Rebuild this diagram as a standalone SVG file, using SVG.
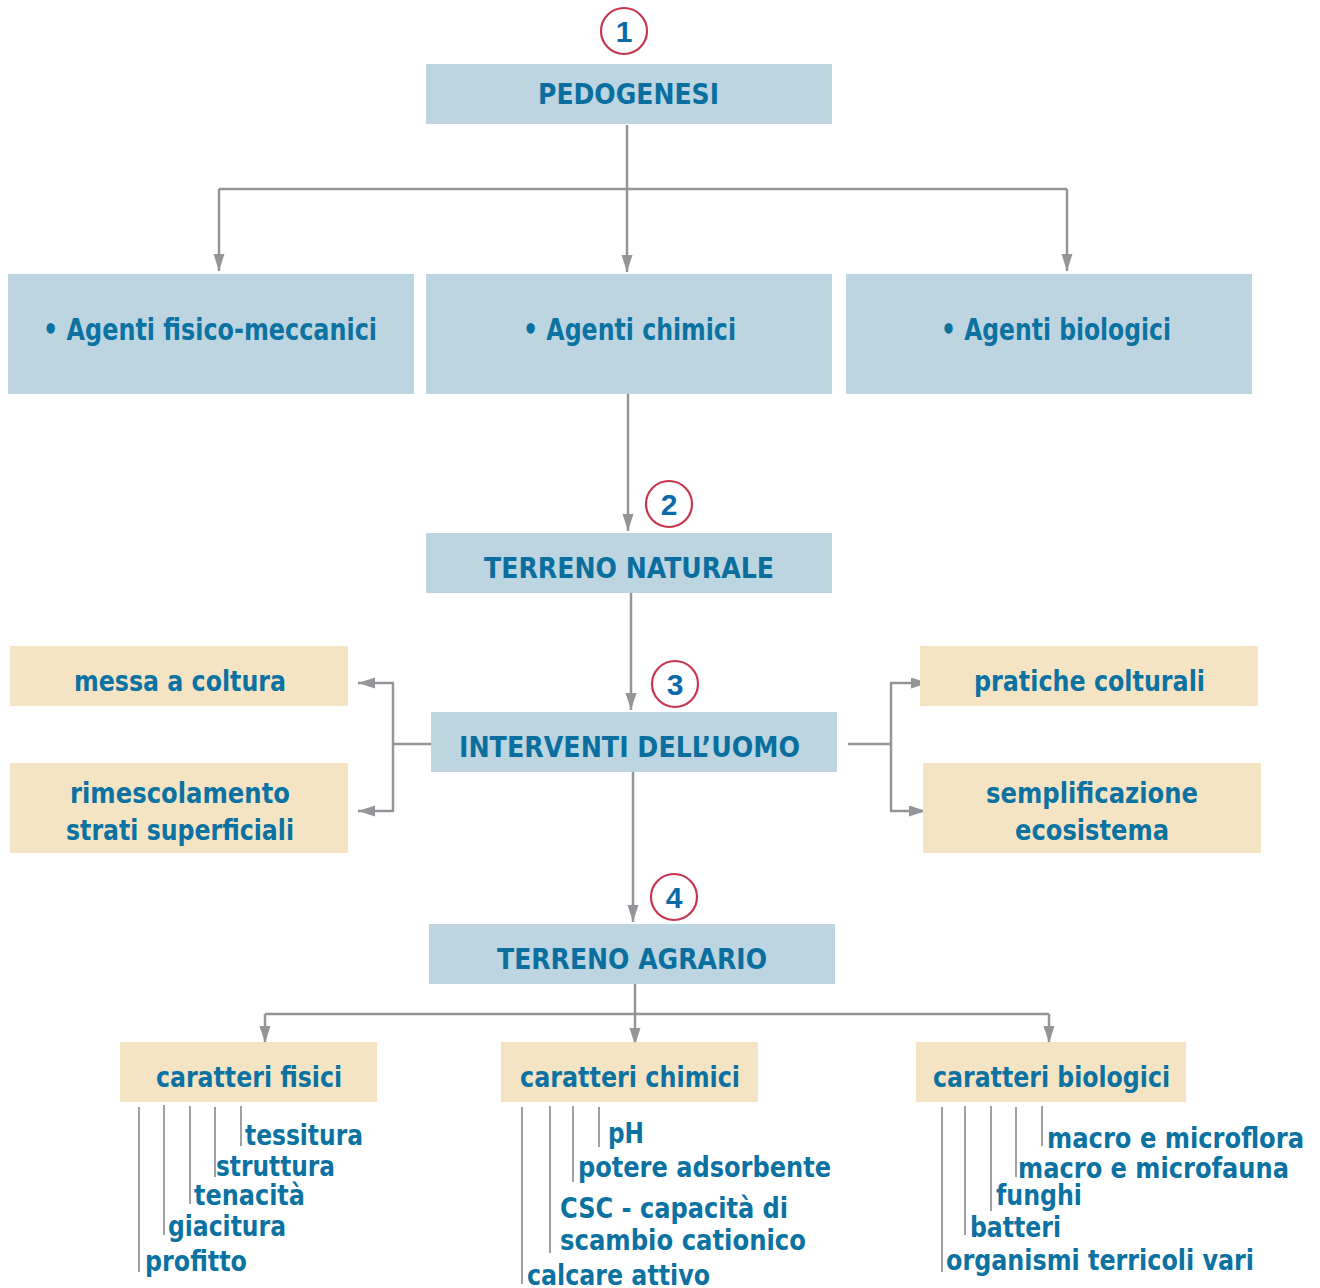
<svg xmlns="http://www.w3.org/2000/svg" width="1320" height="1288" viewBox="0 0 1320 1288">
<style>
.bb{fill:#bcd5e0}
.be{fill:#f4e4c4}
.t{font-family:"Liberation Sans Narrow","DejaVu Sans Condensed","Liberation Sans",sans-serif;font-weight:bold;fill:#0b72a2;font-size:29px}
.h{font-size:29px;fill:#0a6f9f}
.ag{font-size:30px}
.c{fill:none;stroke:#c8354f;stroke-width:2.2}
.n{font-family:"Liberation Sans",sans-serif;font-weight:bold;fill:#0b6aa8;font-size:30px;text-anchor:middle}
.ln{fill:none;stroke:#939598;stroke-width:2.5}
.li{fill:none;stroke:#a0a1a4;stroke-width:2}
</style>
<defs>
<marker id="ar" markerUnits="userSpaceOnUse" markerWidth="18" markerHeight="12" refX="17" refY="5.5" orient="auto">
<path d="M0,0 L17,5.5 L0,11 z" fill="#939598"/>
</marker>
</defs>

<g id="connectors">
<path class="ln" d="M627,125 V272" marker-end="url(#ar)"/>
<path class="ln" d="M219,189 H1067"/>
<path class="ln" d="M219,189 V271" marker-end="url(#ar)"/>
<path class="ln" d="M1067,189 V271" marker-end="url(#ar)"/>
<path class="ln" d="M628,394 V531" marker-end="url(#ar)"/>
<path class="ln" d="M631,593 V710" marker-end="url(#ar)"/>
<path class="ln" d="M439,744 H393"/>
<path class="ln" d="M393,683 V811"/>
<path class="ln" d="M394,683 H358" marker-end="url(#ar)"/>
<path class="ln" d="M394,811 H358" marker-end="url(#ar)"/>
<path class="ln" d="M848,744 H891"/>
<path class="ln" d="M891,683 V811"/>
<path class="ln" d="M890,683 H928" marker-end="url(#ar)"/>
<path class="ln" d="M890,811 H926" marker-end="url(#ar)"/>
<path class="ln" d="M633,772 V922" marker-end="url(#ar)"/>
<path class="ln" d="M635,984 V1045" marker-end="url(#ar)"/>
<path class="ln" d="M265,1014 H1049"/>
<path class="ln" d="M265,1014 V1043" marker-end="url(#ar)"/>
<path class="ln" d="M1049,1014 V1043" marker-end="url(#ar)"/>
</g>

<g id="badge1"><circle class="c" cx="624" cy="31" r="23"/><text class="n" x="624" y="42">1</text></g>
<g id="badge2"><circle class="c" cx="669" cy="504" r="23"/><text class="n" x="669" y="515">2</text></g>
<g id="badge3"><circle class="c" cx="675" cy="684" r="23"/><text class="n" x="675" y="695">3</text></g>
<g id="badge4"><circle class="c" cx="674" cy="897" r="23"/><text class="n" x="674" y="908">4</text></g>

<g id="pedogenesi"><rect class="bb" x="426" y="64" width="406" height="60"/><text class="t h" x="538" y="104" textLength="181" lengthAdjust="spacingAndGlyphs">PEDOGENESI</text></g>

<g id="agenti-fisico"><rect class="bb" x="8" y="274" width="406" height="120"/><text class="t ag" x="43" y="340" textLength="334" lengthAdjust="spacingAndGlyphs">• Agenti fisico-meccanici</text></g>
<g id="agenti-chimici"><rect class="bb" x="426" y="274" width="406" height="120"/><text class="t ag" x="523" y="340" textLength="213" lengthAdjust="spacingAndGlyphs">• Agenti chimici</text></g>
<g id="agenti-biologici"><rect class="bb" x="846" y="274" width="406" height="120"/><text class="t ag" x="941" y="340" textLength="230" lengthAdjust="spacingAndGlyphs">• Agenti biologici</text></g>

<g id="terreno-naturale"><rect class="bb" x="426" y="533" width="406" height="60"/><text class="t h" x="484" y="578" textLength="290" lengthAdjust="spacingAndGlyphs">TERRENO NATURALE</text></g>

<g id="interventi"><rect class="bb" x="431" y="712" width="406" height="60"/><text class="t h" x="459" y="757" textLength="341" lengthAdjust="spacingAndGlyphs">INTERVENTI DELL’UOMO</text></g>

<g id="messa-coltura"><rect class="be" x="10" y="646" width="338" height="60"/><text class="t" x="74" y="691" textLength="212" lengthAdjust="spacingAndGlyphs">messa a coltura</text></g>
<g id="rimescolamento"><rect class="be" x="10" y="763" width="338" height="90"/><text class="t" x="70" y="803" textLength="220" lengthAdjust="spacingAndGlyphs">rimescolamento</text><text class="t" x="66" y="840" textLength="228" lengthAdjust="spacingAndGlyphs">strati superficiali</text></g>
<g id="pratiche"><rect class="be" x="920" y="646" width="338" height="60"/><text class="t" x="974" y="691" textLength="231" lengthAdjust="spacingAndGlyphs">pratiche colturali</text></g>
<g id="semplificazione"><rect class="be" x="923" y="763" width="338" height="90"/><text class="t" x="986" y="803" textLength="212" lengthAdjust="spacingAndGlyphs">semplificazione</text><text class="t" x="1015" y="840" textLength="154" lengthAdjust="spacingAndGlyphs">ecosistema</text></g>

<g id="terreno-agrario"><rect class="bb" x="429" y="924" width="406" height="60"/><text class="t h" x="497" y="969" textLength="270" lengthAdjust="spacingAndGlyphs">TERRENO AGRARIO</text></g>

<g id="caratteri-fisici"><rect class="be" x="120" y="1042" width="257" height="60"/><text class="t" x="156" y="1087" textLength="186" lengthAdjust="spacingAndGlyphs">caratteri fisici</text>
<path class="li" d="M139,1107 V1272 M164,1105 V1235 M190,1106 V1204 M215,1107 V1177 M241,1106 V1146"/>
<text class="t" x="245" y="1145" textLength="118" lengthAdjust="spacingAndGlyphs">tessitura</text>
<text class="t" x="216" y="1176" textLength="119" lengthAdjust="spacingAndGlyphs">struttura</text>
<text class="t" x="194" y="1205" textLength="111" lengthAdjust="spacingAndGlyphs">tenacità</text>
<text class="t" x="168" y="1236" textLength="118" lengthAdjust="spacingAndGlyphs">giacitura</text>
<text class="t" x="145" y="1271" textLength="102" lengthAdjust="spacingAndGlyphs">profitto</text>
</g>

<g id="caratteri-chimici"><rect class="be" x="501" y="1042" width="257" height="60"/><text class="t" x="520" y="1087" textLength="220" lengthAdjust="spacingAndGlyphs">caratteri chimici</text>
<path class="li" d="M522,1107 V1284 M550,1106 V1253 M573,1106 V1182 M599,1107 V1147"/>
<text class="t" x="608" y="1143" textLength="36" lengthAdjust="spacingAndGlyphs">pH</text>
<text class="t" x="578" y="1177" textLength="253" lengthAdjust="spacingAndGlyphs">potere adsorbente</text>
<text class="t" x="560" y="1218" textLength="228" lengthAdjust="spacingAndGlyphs">CSC - capacità di</text>
<text class="t" x="560" y="1250" textLength="246" lengthAdjust="spacingAndGlyphs">scambio cationico</text>
<text class="t" x="527" y="1285" textLength="183" lengthAdjust="spacingAndGlyphs">calcare attivo</text>
</g>

<g id="caratteri-biologici"><rect class="be" x="916" y="1042" width="270" height="60"/><text class="t" x="933" y="1087" textLength="237" lengthAdjust="spacingAndGlyphs">caratteri biologici</text>
<path class="li" d="M942,1107 V1272 M965,1106 V1235 M991,1106 V1211 M1016,1107 V1177 M1042,1106 V1146"/>
<text class="t" x="1047" y="1148" textLength="257" lengthAdjust="spacingAndGlyphs">macro e microflora</text>
<text class="t" x="1018" y="1178" textLength="271" lengthAdjust="spacingAndGlyphs">macro e microfauna</text>
<text class="t" x="996" y="1205" textLength="86" lengthAdjust="spacingAndGlyphs">funghi</text>
<text class="t" x="970" y="1237" textLength="91" lengthAdjust="spacingAndGlyphs">batteri</text>
<text class="t" x="946" y="1270" textLength="308" lengthAdjust="spacingAndGlyphs">organismi terricoli vari</text>
</g>
</svg>
